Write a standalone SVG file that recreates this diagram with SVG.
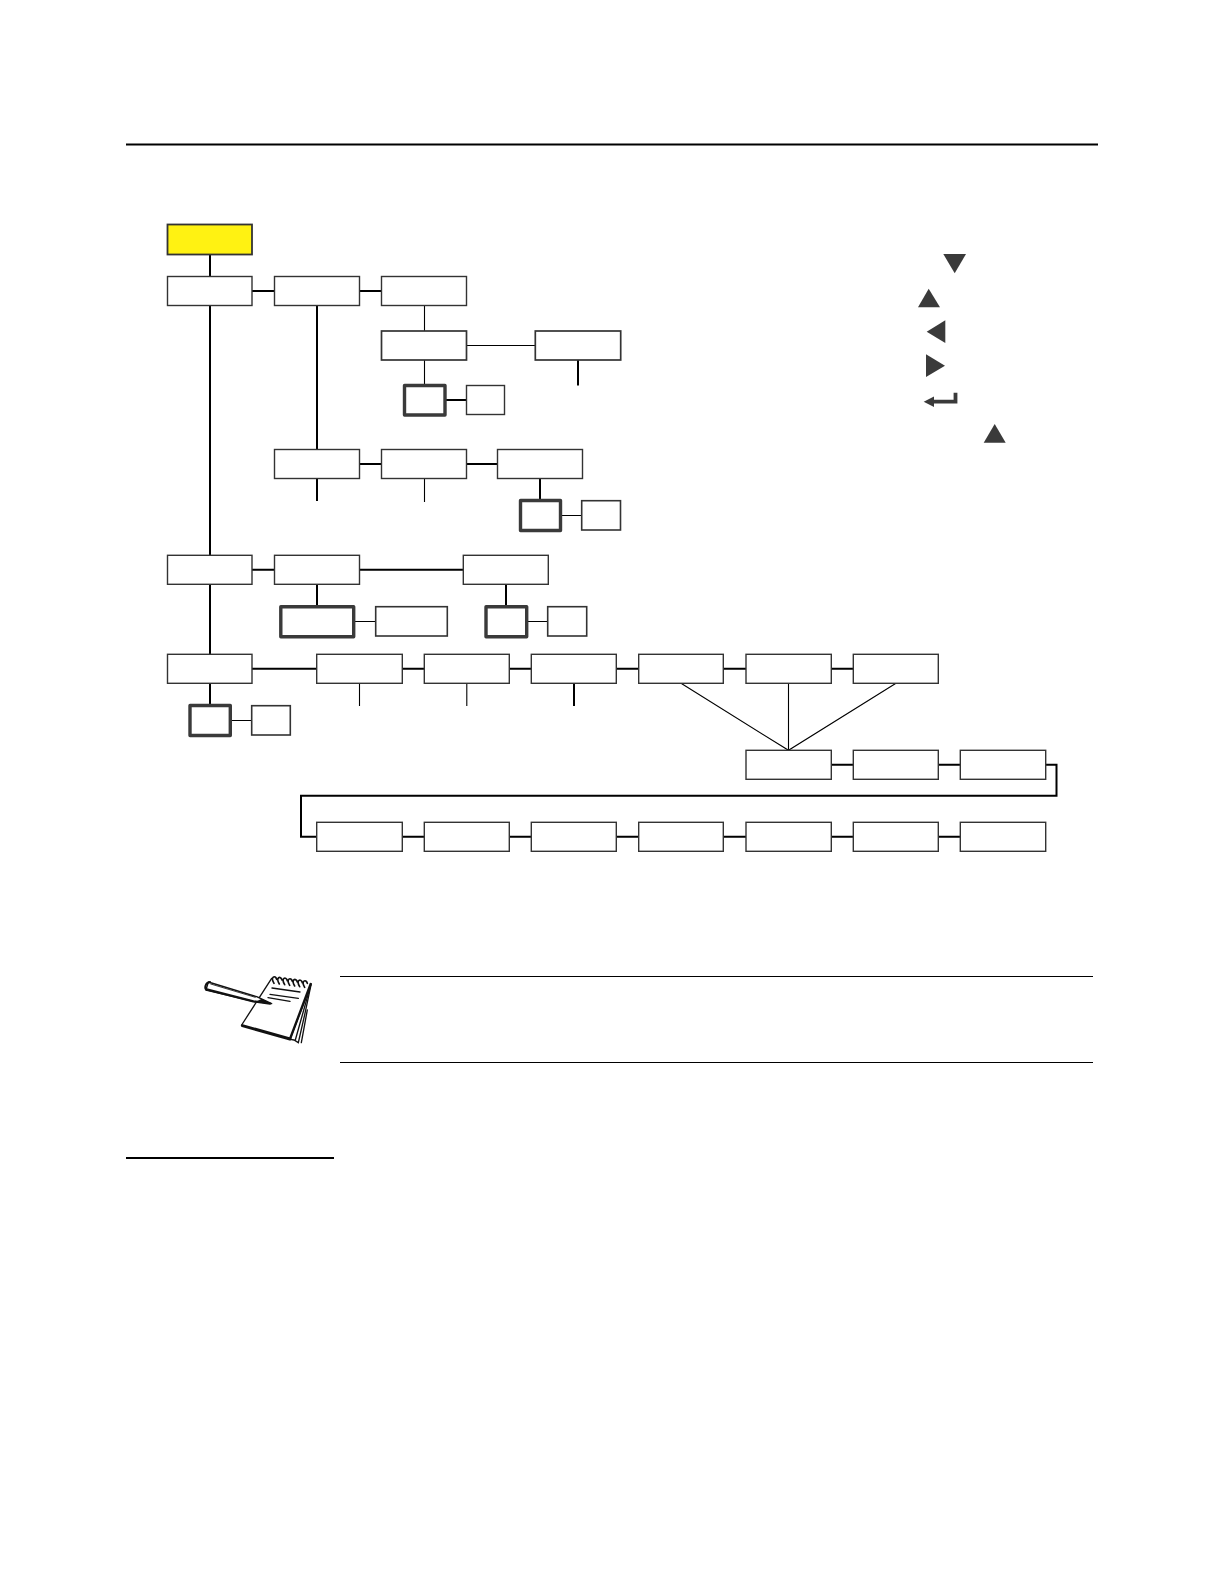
<svg xmlns="http://www.w3.org/2000/svg" width="1224" height="1584" viewBox="0 0 1224 1584">
<style>
.n{fill:#fff;stroke:#333;stroke-width:1.4}
.y{fill:#fff212;stroke:#333;stroke-width:1.8}
.t{fill:#fff;stroke:#3a3a3a;stroke-width:3.4;stroke-linejoin:round}
.c{fill:none;stroke:#000;stroke-width:2}
.f{fill:none;stroke:#000;stroke-width:1.1}
.r{fill:none;stroke:#000}
.k{fill:#3a3a3a}
.i{fill:none;stroke:#111;stroke-linecap:round;stroke-linejoin:round}
</style>
<rect width="1224" height="1584" fill="#fff"/>
<g id="rules">
<line class="r" x1="126" y1="144.500" x2="1098" y2="144.500" stroke-width="2"/>
<line class="r" x1="340" y1="976.500" x2="1093" y2="976.500" stroke-width="1"/>
<line class="r" x1="340" y1="1062.500" x2="1093" y2="1062.500" stroke-width="1"/>
<line class="r" x1="126" y1="1158" x2="334" y2="1158" stroke-width="2"/>
</g>
<g id="connectors">
<path class="c" d="M210 254.500V276.500M252 291H274.500M359.500 291H381.500M210 305.500V555.300M317 305.500V449.500M359.500 464H381.500M466.500 464H497.500M252 569.800H274.500M359.500 569.800H463.300M210 584.300V654.300M317 584.300V606.300M506 584.300V606.300M252 668.800H316.700M402.300 668.800H424.300M509.300 668.800H531.300M616.300 668.800H638.700M723.300 668.800H746M831.300 668.800H853.300M210 683.300V705M574 683.300V706M831.300 764.800H853.300M938.300 764.800H960.300M1045.700 764.800H1056.500V795.700H301V836.800H316.700M402.300 836.800H424.300M509.300 836.800H531.300M616.300 836.800H638.700M723.300 836.800H746M831.300 836.800H853.300M938.300 836.800H960.300M578 360V385.500M317 478.500V501M445 400H466.500M540 478.500V500"/>
<path class="f" d="M424.500 305.500V331M466.500 345.500H535.300M424.500 360V385M424.500 478.500V502M560.500 515.500H581.700M353.700 621.500H375.700M526.700 621.500H547.700M230.300 720.500H251.700M359.500 683.300V706M466.800 683.300V706M788.500 683.300V750.300M681 683.300L788.500 750.300L896 683.300"/>
</g>
<g id="n01"><rect class="y" x="167.500" y="224.500" width="84.500" height="30"/></g>
<g id="n02"><rect class="n" x="167.500" y="276.500" width="84.500" height="29"/></g>
<g id="n03"><rect class="n" x="274.500" y="276.500" width="85" height="29"/></g>
<g id="n04"><rect class="n" x="381.500" y="276.500" width="85" height="29"/></g>
<g id="n05"><rect class="n" x="381.500" y="331" width="85" height="29" style="stroke-width:1.7"/></g>
<g id="n06"><rect class="n" x="535.300" y="331" width="85.400" height="29" style="stroke-width:1.7"/></g>
<g id="n07"><rect class="t" x="404.500" y="385.500" width="40.500" height="29.500"/></g>
<g id="n08"><rect class="n" x="466.500" y="385.500" width="38" height="29"/></g>
<g id="n09"><rect class="n" x="274.500" y="449.500" width="85" height="29"/></g>
<g id="n10"><rect class="n" x="381.500" y="449.500" width="85" height="29"/></g>
<g id="n11"><rect class="n" x="497.500" y="449.500" width="85" height="29"/></g>
<g id="n12"><rect class="t" x="520.500" y="500.500" width="40" height="30"/></g>
<g id="n13"><rect class="n" x="581.700" y="500.700" width="38.800" height="29.300" style="stroke-width:1.6"/></g>
<g id="n14"><rect class="n" x="167.500" y="555.300" width="84.500" height="29"/></g>
<g id="n15"><rect class="n" x="274.500" y="555.300" width="85" height="29"/></g>
<g id="n16"><rect class="n" x="463.300" y="555.300" width="85" height="29"/></g>
<g id="n17"><rect class="t" x="280.800" y="606.800" width="72.900" height="30"/></g>
<g id="n18"><rect class="n" x="375.700" y="606.700" width="71.600" height="29.300" style="stroke-width:1.6"/></g>
<g id="n19"><rect class="t" x="486" y="606.800" width="40.700" height="30"/></g>
<g id="n20"><rect class="n" x="547.700" y="606.700" width="39" height="29.300" style="stroke-width:1.6"/></g>
<g id="n21"><rect class="n" x="167.500" y="654.300" width="84.500" height="29"/></g>
<g id="n22"><rect class="n" x="316.700" y="654.300" width="85.600" height="29"/></g>
<g id="n23"><rect class="n" x="424.300" y="654.300" width="85" height="29"/></g>
<g id="n24"><rect class="n" x="531.300" y="654.300" width="85" height="29"/></g>
<g id="n25"><rect class="n" x="638.700" y="654.300" width="84.600" height="29"/></g>
<g id="n26"><rect class="n" x="746" y="654.300" width="85.300" height="29"/></g>
<g id="n27"><rect class="n" x="853.300" y="654.300" width="85" height="29"/></g>
<g id="n28"><rect class="t" x="190" y="705.500" width="40.300" height="30"/></g>
<g id="n29"><rect class="n" x="251.700" y="705.700" width="38.600" height="29.300" style="stroke-width:1.6"/></g>
<g id="n30"><rect class="n" x="746" y="750.300" width="85.300" height="29"/></g>
<g id="n31"><rect class="n" x="853.300" y="750.300" width="85" height="29"/></g>
<g id="n32"><rect class="n" x="960.300" y="750.300" width="85.400" height="29"/></g>
<g id="n33"><rect class="n" x="316.700" y="822.300" width="85.600" height="29"/></g>
<g id="n34"><rect class="n" x="424.300" y="822.300" width="85" height="29"/></g>
<g id="n35"><rect class="n" x="531.300" y="822.300" width="85" height="29"/></g>
<g id="n36"><rect class="n" x="638.700" y="822.300" width="84.600" height="29"/></g>
<g id="n37"><rect class="n" x="746" y="822.300" width="85.300" height="29"/></g>
<g id="n38"><rect class="n" x="853.300" y="822.300" width="85" height="29"/></g>
<g id="n39"><rect class="n" x="960.300" y="822.300" width="85.400" height="29"/></g>
<g id="keys">
<polygon class="k" points="943.300,254 966,254 954.700,273.300"/>
<polygon class="k" points="918,307.300 940,307.300 928.700,288.700"/>
<polygon class="k" points="926.700,331.700 945.300,320.300 945.300,343"/>
<polygon class="k" points="926,354.300 926,377 945,365.700"/>
<polygon class="k" points="923.700,401.700 934,396.500 934,407"/>
<path d="M932 401.700H955.500V392.700" fill="none" stroke="#3a3a3a" stroke-width="3.800"/>
<polygon class="k" points="983.700,442.700 1005.700,442.700 994.700,424"/>
</g>
<g id="notebook" transform="translate(190 960) scale(.3333)">
<polygon points="364,70 345,160 325,248 312,240 300,238" fill="#fff" stroke="#111" stroke-width="4"/>
<path class="i" stroke-width="4" d="M362 76L316 240M352 150L334 248"/>
<polygon points="245,52 362,72 300,238 155,195" fill="#fff"/>
<path class="i" stroke-width="4" d="M245 55L155 195"/>
<path class="i" stroke-width="9" d="M157 197L300 237"/>
<path class="i" stroke-width="7" d="M300 237L362 72"/>
<path class="i" stroke-width="5" d="M252 70C240 50 256 44 260 58M268 72C256 52 272 46 276 60M284 74C272 54 288 48 292 62M299 76C287 56 303 50 307 64M314 78C302 58 318 52 322 66M329 80C317 60 333 54 337 68M344 82C332 62 348 56 352 70"/>
<path class="i" stroke-width="4" d="M246 84L330 96M240 103L325 115M234 113L300 124"/>
<polygon points="55,66 200,110 245,131 190,124 48,90" fill="#fff" stroke="#111" stroke-width="4" stroke-linejoin="round"/>
<polygon points="245,131 215,116 200,124" fill="#111"/>
<path class="i" stroke-width="7" d="M50 88L190 124L240 131"/>
<path class="i" stroke-width="6" d="M60 66C46 68 42 84 50 90"/>
<path class="i" stroke-width="2.500" d="M62 72L196 112"/>
</g>
</svg>
